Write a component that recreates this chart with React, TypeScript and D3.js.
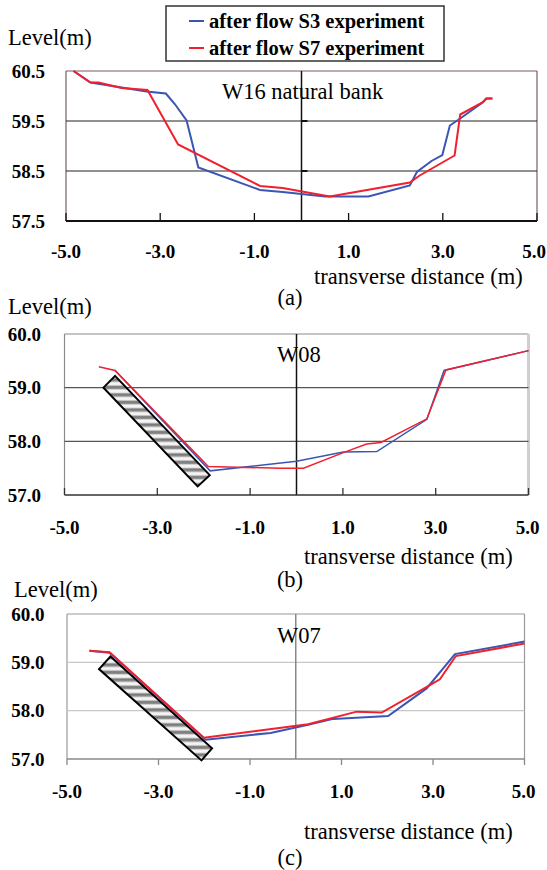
import React from "react";
import * as d3 from "d3";

// shared tick values
const xTicks = [-5, -3, -1, 1, 3, 5];
const levelTicksA = [57.5, 58.5, 59.5, 60.5];
const levelTicksBC = [57, 58, 59, 60];

// W16 natural bank
const w16S3X = [-4.84, -4.48, -3.29, -2.88, -2.69, -2.44, -2.19, -0.88, -0.4, 0.5, 1.42, 2.3, 2.45, 2.76, 2.99, 3.15, 3.37, 3.83, 3.93, 4.04];
const w16S3Y = [60.5, 60.27, 60.09, 60.05, 59.84, 59.51, 58.57, 58.12, 58.08, 57.99, 57.99, 58.21, 58.48, 58.7, 58.82, 59.41, 59.55, 59.86, 59.95, 59.95];
const w16S7X = [-4.84, -4.48, -4.31, -3.82, -3.27, -2.62, -0.88, -0.4, 0.6, 2.3, 2.51, 3.25, 3.37, 3.86, 3.92, 4.06];
const w16S7Y = [60.5, 60.27, 60.27, 60.16, 60.12, 59.03, 58.2, 58.16, 57.99, 58.27, 58.41, 58.81, 59.63, 59.88, 59.95, 59.95];

// W08
const w08S3X = [-3.91, -1.86, 0.0, 1.01, 1.73, 2.81, 3.18, 5.0];
const w08S3Y = [59.32, 57.45, 57.63, 57.8, 57.81, 58.41, 59.32, 59.69];
const w08S7X = [-4.26, -3.91, -1.9, -0.36, 0.15, 1.01, 1.51, 1.82, 2.81, 3.22, 5.0];
const w08S7Y = [59.39, 59.32, 57.53, 57.5, 57.5, 57.79, 57.95, 57.98, 58.42, 59.33, 59.69];
const w08BankX = [-4.16, -3.91, -1.87, -2.13];
const w08BankY = [59.0, 59.22, 57.37, 57.16];

// W07
const w07S3X = [-4.51, -4.07, -1.97, -0.55, 0.27, 0.82, 2.02, 2.86, 3.48, 5.0];
const w07S3Y = [59.24, 59.2, 57.4, 57.54, 57.71, 57.83, 57.89, 58.46, 59.17, 59.43];
const w07S7X = [-4.51, -4.07, -2.01, 0.27, 1.33, 1.88, 2.97, 3.15, 3.5, 5.0];
const w07S7Y = [59.24, 59.21, 57.44, 57.72, 57.98, 57.96, 58.55, 58.65, 59.13, 59.39];
const w07BankX = [-4.3, -4.05, -1.83, -2.06];
const w07BankY = [58.86, 59.12, 57.22, 56.97];

const blue = "#3a56b4";
const red = "#f0202e";
const serif = "'Liberation Serif', 'Times New Roman', serif";

const zip = (xs: number[], ys: number[]) => xs.map((x, i) => [x, ys[i]] as [number, number]);
const fmt = (v: number) => v.toFixed(1);

const panels = [
  {
    key: "a", title: "W16 natural bank", tag: "(a)",
    left: 66, right: 537, top: 71, bottom: 221,
    yDomain: [57.5, 60.5], yTicks: levelTicksA,
    s3: zip(w16S3X, w16S3Y), s7: zip(w16S7X, w16S7Y), bank: null as null | [number, number][],
    yLabelX: 45, levelY: 45, levelX: 8, titleX: 222, titleY: 99,
    xLabelY: 258, axisTitleX: 314, axisTitleY: 284, tagY: 305,
    border: "#7b5e5e", rightBorder: "#7b5e5e", rightW: 1.2, grid: "#222", axis: "#111", axisW: 2,
    zero: "#111", tickLen: -8, lineW: 2,
  },
  {
    key: "b", title: "W08", tag: "(b)",
    left: 64.5, right: 528.5, top: 334, bottom: 495,
    yDomain: [57, 60], yTicks: levelTicksBC,
    s3: zip(w08S3X, w08S3Y), s7: zip(w08S7X, w08S7Y), bank: zip(w08BankX, w08BankY),
    yLabelX: 41, levelY: 314, levelX: 8, titleX: 277, titleY: 362,
    xLabelY: 534, axisTitleX: 304, axisTitleY: 564, tagY: 587,
    border: "#8a8a8a", rightBorder: "#cfcfcf", rightW: 3, grid: "#555", axis: "#333", axisW: 1.6,
    zero: "#111", tickLen: -7, lineW: 1.5,
  },
  {
    key: "c", title: "W07", tag: "(c)",
    left: 67, right: 524.5, top: 614, bottom: 759,
    yDomain: [57, 60], yTicks: levelTicksBC,
    s3: zip(w07S3X, w07S3Y), s7: zip(w07S7X, w07S7Y), bank: zip(w07BankX, w07BankY),
    yLabelX: 44.5, levelY: 597, levelX: 14, titleX: 277, titleY: 643,
    xLabelY: 798, axisTitleX: 304, axisTitleY: 839, tagY: 865,
    border: "#999", rightBorder: "#999", rightW: 1.2, grid: "#c8c8c8", axis: "#888", axisW: 1.5,
    zero: "#888", tickLen: 6, lineW: 2,
  },
];

function Panel({ p }: { p: (typeof panels)[number] }) {
  const x = d3.scaleLinear().domain([-5, 5]).range([p.left, p.right]);
  const y = d3.scaleLinear().domain(p.yDomain).range([p.bottom, p.top]);
  const line = d3.line<[number, number]>().x((d) => x(d[0])).y((d) => y(d[1]));
  const yTop = p.yDomain[1];
  const yBot = p.yDomain[0];

  return (
    <g>
      <text x={p.levelX} y={p.levelY} fontSize={22.5} fontFamily={serif}>Level(m)</text>

      {/* plot frame */}
      <line x1={x(-5)} x2={x(-5)} y1={y(yTop)} y2={y(yBot)} stroke={p.border} strokeWidth={1.2} />
      <line x1={x(-5)} x2={x(5)} y1={y(yTop)} y2={y(yTop)} stroke={p.border} strokeWidth={1.2} />
      <line x1={x(5)} x2={x(5)} y1={y(yTop)} y2={y(yBot)} stroke={p.rightBorder} strokeWidth={p.rightW} />

      {/* grid */}
      {p.yTicks.slice(1, -1).map((t) => (
        <line key={t} x1={x(-5)} x2={x(5)} y1={y(t)} y2={y(t)} stroke={p.grid} strokeWidth={1.2} />
      ))}

      {/* zero line */}
      <line x1={x(0)} x2={x(0)} y1={y(yTop)} y2={y(yBot)} stroke={p.zero} strokeWidth={1.5} />
      {p.key === "a" &&
        p.yTicks.slice(1, -1).map((t) => (
          <line key={"zt" + t} x1={x(0)} x2={x(0) + 6} y1={y(t)} y2={y(t)} stroke={p.zero} strokeWidth={2} />
        ))}

      {/* x axis */}
      <line x1={x(-5)} x2={x(5)} y1={y(yBot)} y2={y(yBot)} stroke={p.axis} strokeWidth={p.axisW} />
      {xTicks.map((t) => (
        <line key={"xt" + t} x1={x(t)} x2={x(t)} y1={y(yBot)} y2={y(yBot) + p.tickLen} stroke={p.axis} strokeWidth={1.3} />
      ))}
      {xTicks.map((t) => (
        <text
          key={"xl" + t}
          x={t === 5 ? Math.min(x(t) + 11, 546) : x(t)}
          y={p.xLabelY}
          textAnchor={t === 5 ? "end" : "middle"}
          fontSize={19}
          fontWeight="bold"
          fontFamily={serif}
        >
          {fmt(t)}
        </text>
      ))}

      {/* y labels */}
      {p.yTicks.map((t) => (
        <text key={"yl" + t} x={p.yLabelX} y={y(t) + 6.5} textAnchor="end" fontSize={19} fontWeight="bold" fontFamily={serif}>
          {fmt(t)}
        </text>
      ))}

      <text x={p.titleX} y={p.titleY} fontSize={22.5} fontFamily={serif}>{p.title}</text>

      {/* bank protection */}
      {p.bank && (
        <polygon
          points={p.bank.map((d) => `${x(d[0])},${y(d[1])}`).join(" ")}
          fill="url(#stripes)"
          stroke="#000"
          strokeWidth={2}
        />
      )}

      <path d={line(p.s3) ?? ""} fill="none" stroke={blue} strokeWidth={p.lineW} />
      <path d={line(p.s7) ?? ""} fill="none" stroke={red} strokeWidth={p.lineW} />

      <text x={p.axisTitleX} y={p.axisTitleY} fontSize={22.5} fontFamily={serif}>transverse distance (m)</text>
      <text x={290} y={p.tagY} textAnchor="middle" fontSize={22.5} fontFamily={serif}>{p.tag}</text>
    </g>
  );
}

export default function App() {
  return (
    <div style={{ position: "absolute", left: 0, top: 0 }}>
      <svg width={547} height={870} style={{ display: "block", background: "#fff" }}>
        <defs>
          <linearGradient id="stripeGrad" x1="0" y1="0" x2="0" y2="1">
            <stop offset="0%" stopColor="#f4f4f4" />
            <stop offset="30%" stopColor="#f4f4f4" />
            <stop offset="55%" stopColor="#767676" />
            <stop offset="80%" stopColor="#8a8a8a" />
            <stop offset="100%" stopColor="#f4f4f4" />
          </linearGradient>
          <pattern id="stripes" patternUnits="userSpaceOnUse" width={10} height={7.5}>
            <rect width={10} height={7.5} fill="url(#stripeGrad)" />
          </pattern>
        </defs>

        {panels.map((p) => (
          <Panel key={p.key} p={p} />
        ))}

        {/* legend */}
        <rect x={166} y={6} width={278} height={55} fill="#fff" stroke="#333" strokeWidth={1.5} />
        <line x1={189} x2={204} y1={21} y2={21} stroke={blue} strokeWidth={2} />
        <text x={209} y={28} fontSize={20.5} fontWeight="bold" fontFamily={serif}>after flow S3 experiment</text>
        <line x1={189} x2={204} y1={48} y2={48} stroke={red} strokeWidth={2} />
        <text x={209} y={55} fontSize={20.5} fontWeight="bold" fontFamily={serif}>after flow S7 experiment</text>
      </svg>
    </div>
  );
}
